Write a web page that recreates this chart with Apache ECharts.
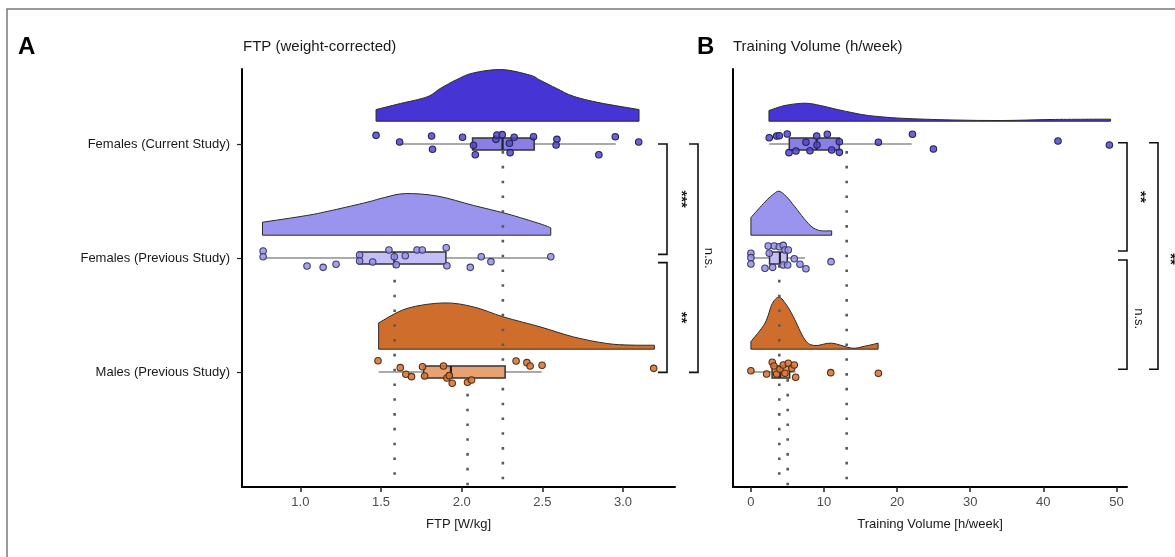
<!DOCTYPE html>
<html><head><meta charset="utf-8">
<script src="https://cdn.jsdelivr.net/npm/echarts@6/dist/echarts.min.js"></script>
<style>html,body{margin:0;padding:0;background:#fff}#c{width:1175px;height:557px}</style>
</head><body><div id="c"></div>
<script>
// ---------- DATA ----------
const groups = ['Females (Current Study)', 'Females (Previous Study)', 'Males (Previous Study)'];
const ftpTicks = [1.0, 1.5, 2.0, 2.5, 3.0];
const tvTicks = [0, 10, 20, 30, 40, 50];

// jittered raw points [value, jittered group position]
const ftpPtsFC = [[1.469,0.924],[1.615,0.982],[1.813,0.930],[1.819,1.046],[2.005,0.941],[2.073,1.011],[2.084,1.094],[2.212,0.959],[2.218,0.921],[2.251,0.918],[2.296,0.994],[2.300,1.076],[2.325,0.941],[2.445,0.936],[2.590,0.959],[2.585,1.009],[2.850,1.094],[2.952,0.936],[3.097,0.982]];
const ftpPtsFP = [[0.769,1.939],[0.769,1.989],[1.041,2.070],[1.141,2.082],[1.221,2.055],[1.367,1.974],[1.367,2.026],[1.448,2.035],[1.549,1.930],[1.582,1.989],[1.594,2.059],[1.650,1.980],[1.723,1.930],[1.755,1.930],[1.904,1.910],[1.908,2.068],[2.053,2.082],[2.121,1.989],[2.181,2.032],[2.552,1.989]];
const ftpPtsMP = [[1.481,2.901],[1.619,2.962],[1.654,3.020],[1.689,3.041],[1.757,2.954],[1.770,3.035],[1.887,2.947],[1.908,3.053],[1.923,3.032],[1.941,3.099],[2.036,3.090],[2.061,3.070],[2.337,2.904],[2.404,2.918],[2.424,2.947],[2.498,2.941],[3.190,2.968]];
const tvPtsFC = [[2.51,0.945],[3.52,0.930],[3.88,0.927],[4.97,0.912],[5.21,1.076],[6.16,1.061],[7.53,0.985],[8.08,1.059],[9.0,0.930],[9.04,1.009],[10.45,0.915],[11.05,1.053],[12.10,0.980],[12.10,1.073],[17.44,0.985],[22.10,0.915],[24.97,1.044],[42.01,0.974],[49.04,1.009]];
const tvPtsFP = [[0,1.959],[0,1.997],[0,2.053],[1.92,2.090],[2.37,1.895],[2.51,1.959],[2.97,2.082],[3.19,1.895],[3.88,1.901],[4.42,1.889],[4.66,1.930],[4.42,2.061],[5.03,2.061],[5.11,1.930],[5.93,2.006],[6.71,2.055],[7.53,2.094],[10.96,2.032]];
const tvPtsMP = [[0,2.989],[2.15,3.018],[2.92,2.915],[3.15,2.947],[3.52,3.018],[3.97,2.976],[4.42,2.939],[4.66,3.011],[5.11,2.924],[5.58,2.968],[5.93,2.939],[6.12,3.046],[10.92,3.006],[17.44,3.011]];

// box stats [lowWhisker, q1, median, q3, highWhisker]
const ftpBoxFC = [1.615, 2.067, 2.253, 2.449, 2.955];
const ftpBoxFP = [0.767, 1.361, 1.582, 1.902, 2.552];
const ftpBoxMP = [1.485, 1.764, 1.933, 2.269, 2.496];
const tvBoxFC = [2.5, 5.25, 9.0, 12.1, 22.0];
const tvBoxFP = [0, 2.55, 3.97, 4.97, 7.4];
const tvBoxMP = [0, 2.9, 4.0, 5.3, 6.1];

// group means (dotted reference lines)
const ftpMeans = [2.255, 1.584, 2.036];
const tvMeans = [13.1, 3.88, 5.03];

// half-violin density outlines [value, density height in group units]
const ftpDensFC = [[1.469,0.102],[1.619,0.155],[1.784,0.213],[1.867,0.287],[1.970,0.366],[2.073,0.424],[2.249,0.453],[2.424,0.404],[2.486,0.36],[2.589,0.287],[2.692,0.219],[2.858,0.161],[3.099,0.102]];
const ftpDensFP = [[0.765,0.114],[1.04,0.173],[1.2,0.219],[1.413,0.289],[1.52,0.33],[1.65,0.365],[1.85,0.343],[2.073,0.261],[2.28,0.188],[2.486,0.1],[2.552,0.065]];
const ftpDensMP = [[1.485,0.231],[1.66,0.357],[1.888,0.406],[2.073,0.371],[2.259,0.283],[2.486,0.196],[2.692,0.108],[2.899,0.05],[3.05,0.036],[3.194,0.035]];
const tvDensFC = [[2.47,0.094],[4.66,0.138],[7.4,0.158],[9.5,0.138],[11.5,0.108],[13.5,0.08],[16.1,0.05],[20.6,0.026],[27.5,0.011],[34.3,0.006],[41.2,0.015],[49.2,0.018]];
const tvDensFP = [[0,0.155],[1.92,0.292],[2.9,0.35],[3.84,0.386],[4.9,0.336],[6.03,0.248],[7.85,0.103],[9.2,0.044],[11.05,0.038]];
const tvDensMP = [[0,0.067],[1.92,0.228],[2.92,0.40],[3.88,0.456],[4.89,0.386],[5.8,0.286],[7.4,0.082],[8.77,0.032],[11.05,0.053],[13.8,0.009],[15.5,0.025],[17.4,0.053]];

// significance annotations [from group pos, to group pos, label]
const ftpSig = [[1.0, 1.968, '***'], [2.041, 3.003, '**'], [1.0, 3.003, 'n.s.']];
const tvSig = [[0.989, 1.939, '**'], [2.018, 2.976, 'n.s.'], [0.989, 2.976, '**']];

// ---------- STYLE ----------
const FONT = '"Liberation Sans", Arial, Helvetica, sans-serif';
const violinCol = ['#4634d4', '#9a94ee', '#cf6d2d'];
const boxCol = ['#8a7fe4', '#c3bff6', '#e8a272'];
const ptFill = ['rgba(84,70,205,0.85)', 'rgba(150,144,232,0.85)', 'rgba(212,118,58,0.88)'];
const ptBorder = ['#25235a', '#3e3d6e', '#5a2f15'];
const VOFF = 0.2, BOXH = 0.052, YMIN = 0.342, YMAX = 4.009;

function violin(ax, dens, g) {
  const cat = g + 1;
  return {
    type: 'custom', xAxisIndex: ax, yAxisIndex: ax, z: 2, silent: true,
    data: dens,
    renderItem: function (params, api) {
      if (params.dataIndex !== 0) return null;
      const base = cat - VOFF;
      const P = dens.map(p => api.coord([p[0], base - p[1]]));
      const b0 = api.coord([dens[0][0], base]);
      const b1 = api.coord([dens[dens.length - 1][0], base]);
      let d = 'M' + b0[0] + ',' + b0[1] + ' L' + P[0][0] + ',' + P[0][1];
      for (let i = 0; i < P.length - 1; i++) {
        const p0 = P[Math.max(i - 1, 0)], p1 = P[i], p2 = P[i + 1], p3 = P[Math.min(i + 2, P.length - 1)];
        const c1 = [p1[0] + (p2[0] - p0[0]) / 6, p1[1] + (p2[1] - p0[1]) / 6];
        const c2 = [p2[0] - (p3[0] - p1[0]) / 6, p2[1] - (p3[1] - p1[1]) / 6];
        d += ' C' + c1[0] + ',' + c1[1] + ' ' + c2[0] + ',' + c2[1] + ' ' + p2[0] + ',' + p2[1];
      }
      d += ' L' + b1[0] + ',' + b1[1] + ' Z';
      return { type: 'path', shape: { pathData: d }, style: { fill: violinCol[g], stroke: '#2b2b2b', lineWidth: 1 } };
    }
  };
}

function box(ax, st, g) {
  const cat = g + 1;
  return {
    type: 'custom', xAxisIndex: ax, yAxisIndex: ax, z: 4, silent: true,
    data: [[st[0], cat, st[1], st[2], st[3], st[4]]],
    encode: { x: [0, 2, 3, 4, 5], y: 1 },
    renderItem: function (params, api) {
      const y = api.value(1);
      const lo = api.coord([api.value(0), y]), hi = api.coord([api.value(5), y]);
      const a = api.coord([api.value(2), y - BOXH]), b = api.coord([api.value(4), y + BOXH]);
      const mt = api.coord([api.value(3), y - BOXH]), mb = api.coord([api.value(3), y + BOXH]);
      return { type: 'group', children: [
        { type: 'line', shape: { x1: lo[0], y1: lo[1], x2: hi[0], y2: hi[1] }, style: { stroke: '#555', lineWidth: 1 } },
        { type: 'rect', shape: { x: a[0], y: a[1], width: b[0] - a[0], height: b[1] - a[1] }, style: { fill: boxCol[g], stroke: '#333', lineWidth: 1.5 } },
        { type: 'line', shape: { x1: mt[0], y1: mt[1], x2: mb[0], y2: mb[1] }, style: { stroke: '#222', lineWidth: 2.2 } }
      ] };
    }
  };
}

function meanLine(ax, m, g) {
  return {
    type: 'line', xAxisIndex: ax, yAxisIndex: ax, z: 3, silent: true, symbol: 'none',
    data: [[m, g + 1 + BOXH + 0.01], [m, YMAX]],
    lineStyle: { color: '#5a5a5a', width: 2.6, type: [2.6, 12.2] }
  };
}

function points(ax, pts, g) {
  return {
    type: 'scatter', xAxisIndex: ax, yAxisIndex: ax, z: 6, silent: true,
    symbolSize: 6.5, data: pts,
    itemStyle: { color: ptFill[g], borderColor: ptBorder[g], borderWidth: 1.1, opacity: 1 }
  };
}

function yAxis(gi, showLabels) {
  return {
    type: 'value', gridIndex: gi, inverse: true, min: YMIN, max: YMAX,
    splitLine: { show: false },
    axisLine: { show: true, onZero: false, lineStyle: { color: '#000', width: 2 } },
    axisTick: { show: showLabels, customValues: [1, 2, 3], length: 5, lineStyle: { color: '#222', width: 1.2 } },
    axisLabel: { show: showLabels, customValues: [1, 2, 3], margin: 12, color: '#1a1a1a', fontSize: 13, fontFamily: FONT,
      formatter: v => groups[Math.round(v) - 1] }
  };
}

function xAxis(gi, min, max, ticks, name, dec) {
  return {
    type: 'value', gridIndex: gi, min: min, max: max,
    splitLine: { show: false },
    axisLine: { show: true, onZero: false, lineStyle: { color: '#000', width: 2 } },
    axisTick: { show: true, customValues: ticks, length: 5, lineStyle: { color: '#222', width: 1.5 } },
    axisLabel: { customValues: ticks, margin: 9, color: '#4d4d4d', fontSize: 13, fontFamily: FONT,
      formatter: v => v.toFixed(dec) },
    name: name, nameLocation: 'middle', nameGap: 31,
    nameTextStyle: { color: '#1a1a1a', fontSize: 13, fontFamily: FONT }
  };
}

const chart = echarts.init(document.getElementById('c'), null, { renderer: 'canvas' });
const ftpDens = [ftpDensFC, ftpDensFP, ftpDensMP], tvDens = [tvDensFC, tvDensFP, tvDensMP];
const ftpBox = [ftpBoxFC, ftpBoxFP, ftpBoxMP], tvBox = [tvBoxFC, tvBoxFP, tvBoxMP];
const ftpPts = [ftpPtsFC, ftpPtsFP, ftpPtsMP], tvPts = [tvPtsFC, tvPtsFP, tvPtsMP];
const series = [];
for (let g = 0; g < 3; g++) {
  series.push(violin(0, ftpDens[g], g), meanLine(0, ftpMeans[g], g), box(0, ftpBox[g], g), points(0, ftpPts[g], g));
  series.push(violin(1, tvDens[g], g), meanLine(1, tvMeans[g], g), box(1, tvBox[g], g), points(1, tvPts[g], g));
}

chart.setOption({
  animation: false,
  backgroundColor: '#fff',
  grid: [
    { left: 242, right: 500, top: 69, bottom: 70 },
    { left: 733, right: 48, top: 69, bottom: 70 }
  ],
  xAxis: [
    xAxis(0, 0.638, 3.322, ftpTicks, 'FTP [W/kg]', 1),
    xAxis(1, -2.45, 51.45, tvTicks, 'Training Volume [h/week]', 0)
  ],
  yAxis: [yAxis(0, true), yAxis(1, false)],
  series: series
});

// annotation brackets and titles
function brackets(sig, yAxisIndex, spec) {
  const els = [];
  sig.forEach((s, i) => {
    const sp = spec[i];
    const y1 = chart.convertToPixel({ yAxisIndex: yAxisIndex }, s[0]);
    const y2 = chart.convertToPixel({ yAxisIndex: yAxisIndex }, s[1]);
    els.push({ type: 'polyline', silent: true, z: 10,
      shape: { points: [[sp.xl, y1], [sp.xv, y1], [sp.xv, y2], [sp.xl, y2]] },
      style: { stroke: '#111', lineWidth: 1.6, fill: null } });
    els.push({ type: 'text', silent: true, z: 10, x: sp.xt, y: (y1 + y2) / 2 + (sp.dy || 0), rotation: -Math.PI / 2,
      style: { text: s[2], fill: '#1a1a1a', font: (s[2] === 'n.s.' ? '13px ' : 'bold 15px ') + FONT, align: 'center', verticalAlign: 'middle' } });
  });
  return els;
}
const gr = [
  { type: 'rect', silent: true, shape: { x: 7, y: 9, width: 1200, height: 600 }, style: { fill: null, stroke: '#7a7a7a', lineWidth: 1.5 } },
  { type: 'text', silent: true, x: 18, y: 47, style: { text: 'A', font: 'bold 24px ' + FONT, fill: '#000', verticalAlign: 'middle' } },
  { type: 'text', silent: true, x: 243, y: 47, style: { text: 'FTP (weight-corrected)', font: '15px ' + FONT, fill: '#1a1a1a', verticalAlign: 'middle' } },
  { type: 'text', silent: true, x: 697, y: 47, style: { text: 'B', font: 'bold 24px ' + FONT, fill: '#000', verticalAlign: 'middle' } },
  { type: 'text', silent: true, x: 733, y: 47, style: { text: 'Training Volume (h/week)', font: '15px ' + FONT, fill: '#1a1a1a', verticalAlign: 'middle' } }
].concat(
  brackets(ftpSig, 0, [{ xl: 658, xv: 667, xt: 681 }, { xl: 658, xv: 667, xt: 681 }, { xl: 689, xv: 698, xt: 709 }]),
  brackets(tvSig, 1, [{ xl: 1118, xv: 1127, xt: 1140 }, { xl: 1118, xv: 1127, xt: 1139, dy: 4 }, { xl: 1149, xv: 1158, xt: 1170, dy: 3 }])
);
chart.setOption({ graphic: gr });
</script>
</body></html>
